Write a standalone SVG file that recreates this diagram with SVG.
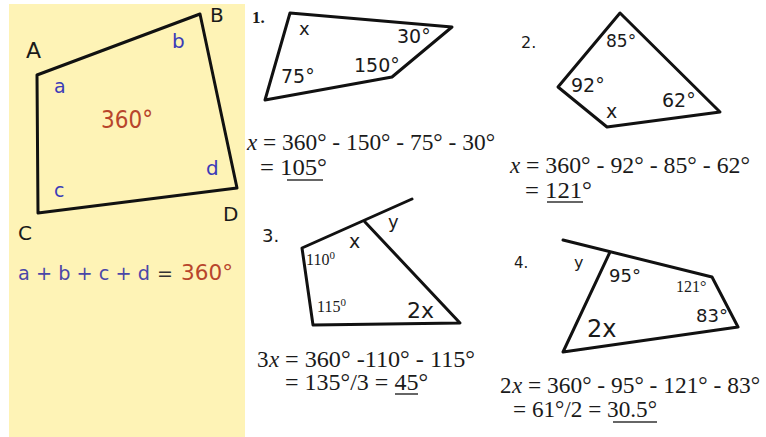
<svg xmlns="http://www.w3.org/2000/svg" width="766" height="437" viewBox="0 0 766 437">
<style>
.shape{fill:none;stroke:#111;stroke-width:3;stroke-linejoin:round;stroke-linecap:round}
.lbl{font-family:"DejaVu Sans","Noto Sans",sans-serif;fill:#1a1a1a}
.blue{font-family:"DejaVu Sans","Noto Sans",sans-serif;fill:#3b3bb8}
.red{font-family:"DejaVu Sans","Noto Sans",sans-serif;fill:#b8452c}
.eq{font-family:"Liberation Serif","Times New Roman",serif;font-size:23px;fill:#1a1a1a}
.it{font-style:italic}
.ser{font-family:"Liberation Serif","Times New Roman",serif;fill:#1a1a1a}
.ul{stroke:#333;stroke-width:1.5}
</style>
<rect x="0" y="0" width="766" height="437" fill="#ffffff"/>
<rect x="9" y="4" width="236" height="433" fill="#fef3b6"/>

<g id="main-quad">
<polygon class="shape" points="37,75 200,14 237,188 38,213"/>
<text class="lbl" x="26" y="58" font-size="22">A</text>
<text class="lbl" x="210" y="22" font-size="20">B</text>
<text class="lbl" x="18" y="240" font-size="20">C</text>
<text class="lbl" x="223" y="221" font-size="20">D</text>
<text class="blue" x="54" y="93" font-size="19">a</text>
<text class="blue" x="172" y="48" font-size="20">b</text>
<text class="blue" x="206" y="175" font-size="20">d</text>
<text class="blue" x="54" y="197" font-size="19">c</text>
<text class="red" x="101" y="128" font-size="24" textLength="52" lengthAdjust="spacingAndGlyphs">360°</text>
</g>

<g id="sum-formula">
<text x="18" y="280" font-size="19" textLength="132" lengthAdjust="spacingAndGlyphs" font-family="DejaVu Sans, Noto Sans, sans-serif" fill="#4a47a8">a + b + c + d</text>
<text x="157" y="280" font-size="19" font-family="DejaVu Sans, Noto Sans, sans-serif" fill="#333">=</text>
<text x="181" y="280" font-size="21" textLength="52" lengthAdjust="spacingAndGlyphs" font-family="DejaVu Sans, Noto Sans, sans-serif" fill="#b8452c">360°</text>
</g>

<g id="problem1">
<text class="ser" x="252" y="23" font-size="17" font-weight="bold">1.</text>
<polygon class="shape" points="290,13 452,27 392,77 265,100"/>
<text class="lbl" x="299" y="35" font-size="18">x</text>
<text class="lbl" x="397" y="43" font-size="19">30°</text>
<text class="lbl" x="354" y="72" font-size="19">150°</text>
<text class="lbl" x="281" y="83" font-size="19">75°</text>
<text class="eq it" x="247" y="150">x</text>
<text class="eq" x="263" y="150" textLength="232" lengthAdjust="spacingAndGlyphs">= 360° - 150° - 75° - 30°</text>
<text class="eq" x="260" y="175" textLength="67" lengthAdjust="spacingAndGlyphs">= 105°</text>
<line class="ul" x1="287" y1="180" x2="323" y2="180"/>
</g>

<g id="problem2">
<text class="lbl" x="521" y="48" font-size="16">2.</text>
<polygon class="shape" points="620,13 720,112 607,127 558,87"/>
<text class="lbl" x="606" y="47" font-size="17">85°</text>
<text class="lbl" x="571" y="92" font-size="19">92°</text>
<text class="lbl" x="662" y="107" font-size="19">62°</text>
<text class="lbl" x="606" y="118" font-size="19">x</text>
<text class="eq it" x="510" y="173">x</text>
<text class="eq" x="526" y="173" textLength="224" lengthAdjust="spacingAndGlyphs">= 360° - 92° - 85° - 62°</text>
<text class="eq" x="525" y="198" textLength="67" lengthAdjust="spacingAndGlyphs">= 121°</text>
<line class="ul" x1="547" y1="202" x2="583" y2="202"/>
</g>

<g id="problem3">
<text class="lbl" x="262" y="242" font-size="18">3.</text>
<polyline class="shape" points="412,199 302,248 313,325 460,323 365,222"/>
<text class="ser" x="306" y="265" font-size="16">110<tspan font-size="11" dy="-6">0</tspan></text>
<text class="lbl" x="349" y="248" font-size="19">x</text>
<text class="lbl" x="388" y="228" font-size="18">y</text>
<text class="ser" x="317" y="312" font-size="16">115<tspan font-size="11" dy="-6">0</tspan></text>
<text class="lbl" x="407" y="318" font-size="22">2x</text>
<text class="eq" x="257" y="367">3</text>
<text class="eq it" x="269" y="367">x</text>
<text class="eq" x="285" y="367" textLength="190" lengthAdjust="spacingAndGlyphs">= 360° -110° - 115°</text>
<text class="eq" x="285" y="390" textLength="143" lengthAdjust="spacingAndGlyphs">= 135°/3 = 45°</text>
<line class="ul" x1="395" y1="394" x2="418" y2="394"/>
</g>

<g id="problem4">
<text class="lbl" x="514" y="268" font-size="15">4.</text>
<polyline class="shape" points="563,240 712,277 738,327 563,352 610,252"/>
<text class="lbl" x="574" y="268" font-size="16">y</text>
<text class="lbl" x="609" y="282" font-size="18">95°</text>
<text class="ser" x="676" y="292" font-size="16">121°</text>
<text class="lbl" x="696" y="322" font-size="18">83°</text>
<text class="lbl" x="587" y="337" font-size="24">2x</text>
<text class="eq" x="500" y="393">2</text>
<text class="eq it" x="512" y="393">x</text>
<text class="eq" x="528" y="393" textLength="232" lengthAdjust="spacingAndGlyphs">= 360° - 95° - 121° - 83°</text>
<text class="eq" x="513" y="417" textLength="144" lengthAdjust="spacingAndGlyphs">= 61°/2 = 30.5°</text>
<line class="ul" x1="613" y1="422" x2="657" y2="422"/>
</g>
</svg>
